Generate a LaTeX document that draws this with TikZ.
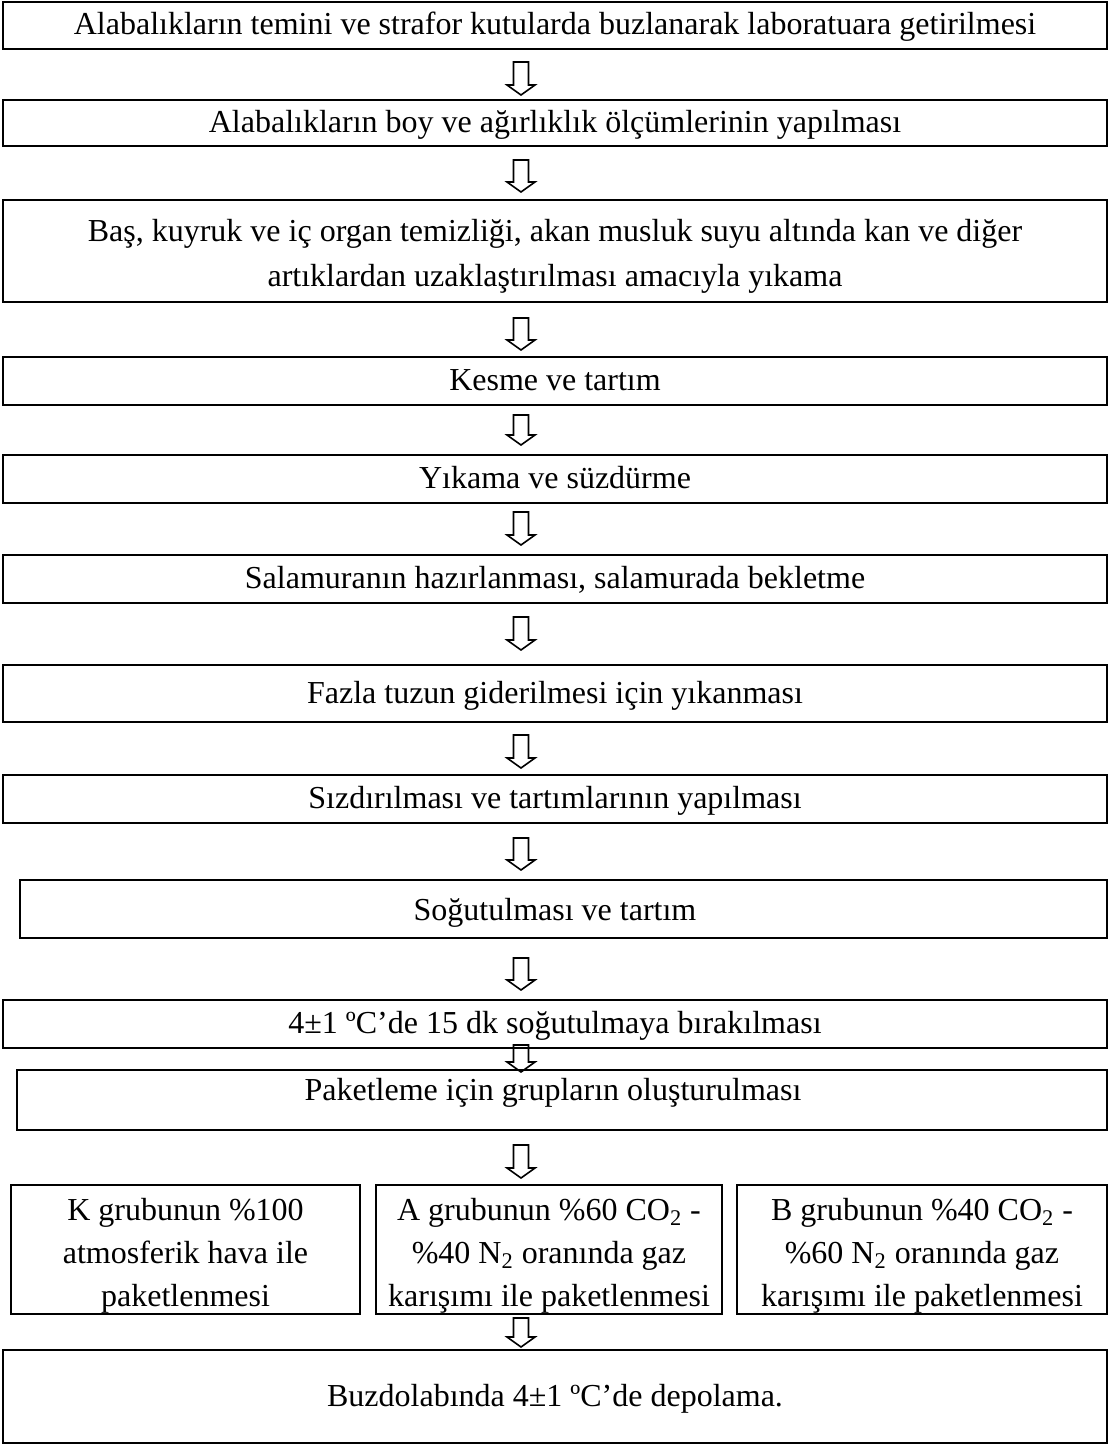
\documentclass[tikz,border=0pt]{standalone}
\usepackage{fontspec}
\setmainfont{Liberation Serif}
\begin{document}
\begin{tikzpicture}[x=0.5pt,y=-0.5pt,
  box/.style={draw, line width=1pt, inner sep=0pt, align=center,
    text height=13.4pt, text depth=3.5pt,
    font=\fontsize{16}{22.5}\selectfont},
  frame/.style={draw, line width=1pt, inner sep=0pt},
  txt/.style={inner sep=0pt, align=center, font=\fontsize{16}{22.5}\selectfont},
  txt3/.style={inner sep=0pt, align=center, font=\fontsize{16}{21.5}\selectfont},
  pics/downarr/.style={code={
    \draw[line width=0.8pt, line join=miter]
      (-7.5,0) -- (7.5,0) -- (7.5,{#1-10}) -- (14,{#1-10}) -- (0,#1)
      -- (-14,{#1-10}) -- (-7.5,{#1-10}) -- cycle;}}]
\useasboundingbox[fill=white] (0,0) rectangle (1109,1447);

\node[box, minimum width=552pt, minimum height=23.5pt] (b1) at (555,25)
  {Alabalıkların temini ve strafor kutularda buzlanarak laboratuara getirilmesi};
\node[box, minimum width=552pt, minimum height=23pt] (b2) at (555,123)
  {Alabalıkların boy ve ağırlıklık ölçümlerinin yapılması};
\node[frame, minimum width=552pt, minimum height=51pt] (b3) at (555,251) {};
\node[txt] (t3) at (555,256)
  {Baş, kuyruk ve iç organ temizliği, akan musluk suyu altında kan ve diğer\\
   artıklardan uzaklaştırılması amacıyla yıkama};
\node[box, minimum width=552pt, minimum height=24pt] (b4) at (555,381)
  {Kesme ve tartım};
\node[box, minimum width=552pt, minimum height=24pt] (b5) at (555,479)
  {Yıkama ve süzdürme};
\node[box, minimum width=552pt, minimum height=24pt] (b6) at (555,579)
  {Salamuranın hazırlanması, salamurada bekletme};
\node[box, minimum width=552pt, minimum height=28.5pt] (b7) at (555,693.5)
  {Fazla tuzun giderilmesi için yıkanması};
\node[box, minimum width=552pt, minimum height=24pt] (b8) at (555,799)
  {Sızdırılması ve tartımlarının yapılması};
\node[frame, minimum width=543.5pt, minimum height=29pt] (b9) at (563.5,909) {};
\node[txt] (t9) at (555,913) {Soğutulması ve tartım};
\node[box, minimum width=552pt, minimum height=24pt] (b10) at (555,1024)
  {4±1 ºC’de 15 dk soğutulmaya bırakılması};
\node[frame, minimum width=545pt, minimum height=30pt] (b11) at (562,1100) {};
\node[txt] (t11) at (553,1093) {Paketleme için grupların oluşturulması};
\node[frame, minimum width=174.5pt, minimum height=64.5pt] (k) at (185.5,1249.5) {};
\node[txt3] (tk) at (185.5,1256)
  {K grubunun \%100\\ atmosferik hava ile\\ paketlenmesi};
\node[frame, minimum width=173pt, minimum height=64.5pt] (a) at (549,1249.5) {};
\node[txt3] (ta) at (549,1256)
  {A grubunun \%60 CO\textsubscript{2} -\\ \%40 N\textsubscript{2} oranında gaz\\ karışımı ile paketlenmesi};
\node[frame, minimum width=185pt, minimum height=64.5pt] (b) at (922,1249.5) {};
\node[txt3] (tb) at (922,1256)
  {B grubunun \%40 CO\textsubscript{2} -\\ \%60 N\textsubscript{2} oranında gaz\\ karışımı ile paketlenmesi};
\node[box, minimum width=552pt, minimum height=46.5pt] (last) at (555,1396.5)
  {Buzdolabında 4±1 ºC’de depolama.};

\pic (a1) at (521,62) {downarr=33};
\pic (a2) at (521,160) {downarr=32};
\pic (a3) at (521,318) {downarr=32};
\pic (a4) at (521,415) {downarr=30};
\pic (a5) at (521,512) {downarr=33};
\pic (a6) at (521,617) {downarr=33};
\pic (a7) at (521,735) {downarr=33};
\pic (a8) at (521,838) {downarr=32};
\pic (a9) at (521,958) {downarr=32};
\pic (a10) at (521,1045) {downarr=27};
\pic (a11) at (521,1145) {downarr=33};
\pic (a12) at (521,1318) {downarr=29};
\end{tikzpicture}
\end{document}
